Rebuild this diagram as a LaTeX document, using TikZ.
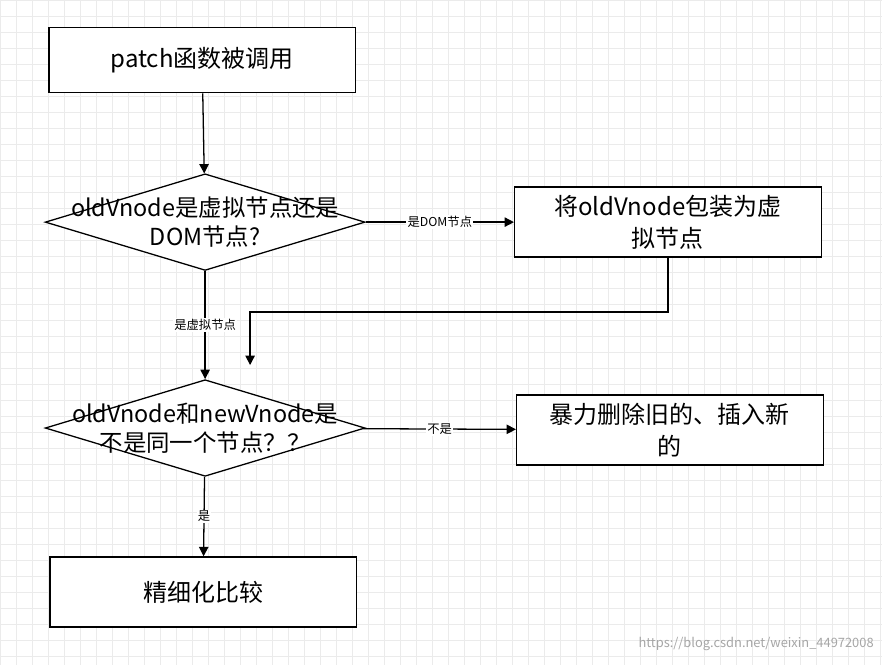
\documentclass[tikz,border=0pt]{standalone}
\usepackage{fontspec}
\setmainfont{Noto Sans CJK SC}
\usetikzlibrary{shapes.geometric,arrows.meta,positioning}
\begin{document}
\begin{tikzpicture}[
    x=0.03cm, y=-0.03cm,
    box/.style={rectangle, draw, line width=1.1pt, minimum width=9.2cm, minimum height=2.1cm, align=center, font=\fontsize{20.5}{27}\selectfont},
    choice/.style={diamond, draw, line width=1.1pt, minimum width=9.6cm, minimum height=2.9cm, inner sep=0pt},
    txt/.style={align=center, font=\fontsize{20}{25}\selectfont},
    tag/.style={fill=white, inner sep=1pt, font=\fontsize{10.5}{12}\selectfont},
    arrow/.style={-{Triangle[length=8pt,width=8pt]}, line width=1.1pt},
]
% background grid
\fill[white] (0,0) rectangle (882,665);
\draw[black!8, line width=0.4pt, step=0.48cm] (0,0) grid (882,665);
\useasboundingbox (0,0) rectangle (882,665);

% boxes and choices
\node[box, fill=white, minimum height=1.95cm] (call) at (202,60) {patch函数被调用};
\node[choice, fill=white] (isv) at (205,222) {};
\node[txt] (isvt) at (205,222) {oldVnode是虚拟节点还是\\DOM节点?};
\node[box, fill=white] (wrap) at (668,222) {将oldVnode包装为虚\\拟节点};
\node[choice, fill=white] (same) at (205,428) {};
\node[txt] (samet) at (205,428) {oldVnode和newVnode是\\不是同一个节点？？};
\node[box, fill=white] (redo) at (670,430) {暴力删除旧的、插入新\\的};
\node[box, fill=white] (fine) at (203,592) {精细化比较};
\coordinate (join) at (250,312);

% arrows
\draw[arrow] (call) -- (isv);
\draw[arrow] (isv) -- node[tag] {是DOM节点} (wrap);
\draw[arrow] (isv) -- node[tag] {是虚拟节点} (same);
\draw[arrow] (wrap.south) |- (join) -- ++(0,53);
\draw[arrow] (same) -- node[tag] {不是} (redo);
\draw[arrow] (same) -- node[tag] {是} (fine);

% watermark
\node[text=black!35, font=\fontsize{11}{13}\selectfont, anchor=south east] (mark) at (878,655) {https://blog.csdn.net/weixin\_44972008};
\end{tikzpicture}
\end{document}
